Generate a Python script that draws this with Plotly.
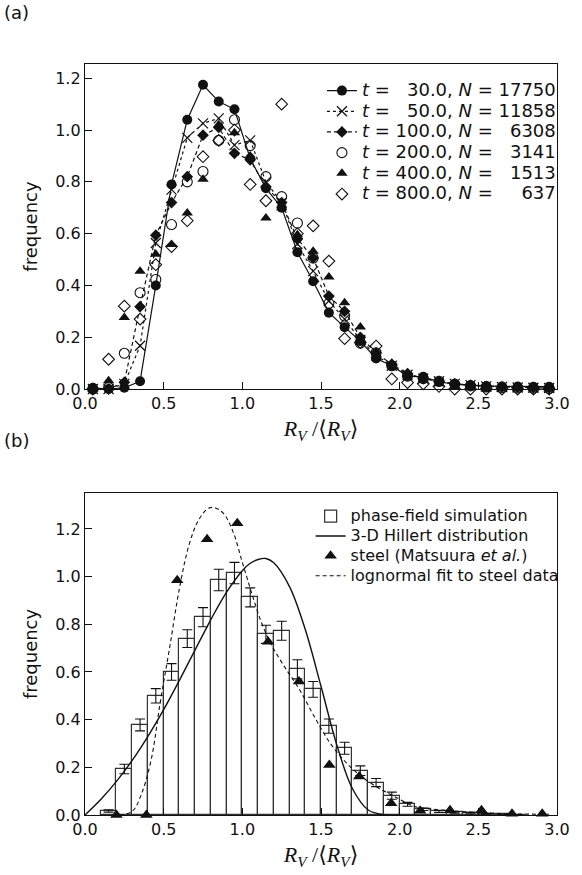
import plotly.graph_objects as go

# ---------------- panel (a) data ----------------
x_bins = [0.05, 0.15, 0.25, 0.35, 0.45, 0.55, 0.65, 0.75, 0.85, 0.95,
          1.05, 1.15, 1.25, 1.35, 1.45, 1.55, 1.65, 1.75, 1.85, 1.95,
          2.05, 2.15, 2.25, 2.35, 2.45, 2.55, 2.65, 2.75, 2.85, 2.95]

f_t30 = [0.005, 0.0, 0.005, 0.03, 0.40, 0.79, 1.04, 1.175, 1.11, 1.08,
         0.89, 0.775, 0.70, 0.528, 0.416, 0.295, 0.239, 0.185, 0.118, 0.09,
         0.05, 0.047, 0.028, 0.018, 0.015, 0.012, 0.01, 0.01, 0.009, 0.009]
f_t50 = [0.0, 0.0, 0.02, 0.167, 0.564, 0.77, 0.97, 1.026, 1.045, 0.942,
         0.96, 0.80, 0.72, 0.56, 0.455, 0.34, 0.27, 0.19, 0.13, 0.09,
         0.055, 0.04, 0.03, 0.02, 0.015, 0.01, 0.008, 0.006, 0.005, 0.004]
f_t100 = [0.0, 0.0, 0.026, 0.318, 0.594, 0.72, 0.82, 0.98, 1.01, 0.91,
          0.885, 0.78, 0.72, 0.58, 0.506, 0.359, 0.30, 0.20, 0.14, 0.095,
          0.06, 0.04, 0.03, 0.02, 0.015, 0.01, 0.008, 0.006, 0.005, 0.004]
f_t200 = [0.0, 0.006, 0.138, 0.372, 0.423, 0.635, 0.80, 0.84, 0.96, 1.04,
          0.94, 0.82, 0.743, 0.641, 0.506, 0.331, 0.282, 0.177, 0.14, 0.09,
          0.05, 0.04, 0.03, 0.019, 0.012, 0.008, 0.005, 0.004, 0.003, 0.002]
f_t400 = [0.0, 0.032, 0.276, 0.455, 0.52, 0.558, 0.68, 0.81, 1.02, 0.99,
          0.90, 0.66, 0.70, 0.596, 0.532, 0.433, 0.333, 0.24, 0.13, 0.10,
          0.058, 0.035, 0.02, 0.01, 0.005, 0.0, 0.0, 0.0, 0.0, 0.0]
f_t800 = [0.0, 0.115, 0.32, 0.27, 0.48, 0.55, 0.65, 0.897, 0.96, 1.0,
          0.79, 0.727, 1.10, 0.60, 0.63, 0.494, 0.195, 0.18, 0.166, 0.039,
          0.025, 0.02, 0.01, 0.0, 0.0, 0.0, 0.0, 0.0, 0.0, 0.0]

legend_a = ["<i>t</i> = \u200730.0, <i>N</i> = 17750",
            "<i>t</i> = \u200750.0, <i>N</i> = 11858",
            "<i>t</i> = 100.0, <i>N</i> = \u20076308",
            "<i>t</i> = 200.0, <i>N</i> = \u20073141",
            "<i>t</i> = 400.0, <i>N</i> = \u20071513",
            "<i>t</i> = 800.0, <i>N</i> = \u2007\u2007637"]

# ---------------- panel (b) data ----------------
bar_x = [0.15, 0.25, 0.35, 0.45, 0.55, 0.65, 0.75, 0.85, 0.95, 1.05,
         1.15, 1.25, 1.35, 1.45, 1.55, 1.65, 1.75, 1.85, 1.95, 2.05,
         2.15, 2.25, 2.35, 2.45, 2.55, 2.65, 2.75]
bar_f = [0.017, 0.193, 0.378, 0.50, 0.60, 0.74, 0.83, 0.986, 1.015, 0.913,
         0.758, 0.773, 0.611, 0.527, 0.373, 0.28, 0.186, 0.136, 0.081, 0.045,
         0.024, 0.015, 0.011, 0.008, 0.005, 0.003, 0.002]
bar_err = [0.005, 0.02, 0.025, 0.03, 0.035, 0.037, 0.04, 0.045, 0.045, 0.04,
           0.038, 0.04, 0.04, 0.033, 0.03, 0.025, 0.02, 0.017, 0.015, 0.008,
           0.005, 0.004, 0.003, 0.003, 0.002, 0.0, 0.0]

hill_x = [0.0, 0.1, 0.2, 0.3, 0.4, 0.5, 0.6, 0.7, 0.8, 0.9, 1.0, 1.05,
          1.1, 1.15, 1.2, 1.3, 1.4, 1.5, 1.6, 1.7, 1.8, 1.9, 2.0]
hill_f = [0.0, 0.065, 0.141, 0.229, 0.330, 0.442, 0.565, 0.693, 0.820, 0.935,
          1.025, 1.056, 1.072, 1.076, 1.058, 0.958, 0.778, 0.540, 0.295, 0.110,
          0.021, 0.001, 0.0]

steel_x = [0.20, 0.39, 0.586, 0.776, 0.968, 1.164, 1.36, 1.553, 1.743, 1.946,
           2.13, 2.32, 2.52, 2.714, 2.906]
steel_f = [0.0, 0.0, 0.985, 1.157, 1.224, 0.727, 0.56, 0.21, 0.161, 0.049,
           0.018, 0.02, 0.02, 0.005, 0.005]

logn_x = [0.22, 0.30, 0.36, 0.42, 0.48, 0.54, 0.60, 0.66, 0.72, 0.78, 0.82,
          0.88, 0.94, 1.00, 1.06, 1.12, 1.18, 1.26, 1.36, 1.46, 1.56, 1.66,
          1.76, 1.86, 1.96, 2.10, 2.25, 2.45, 2.70, 2.95]
logn_f = [0.0, 0.015, 0.09, 0.23, 0.48, 0.71, 0.95, 1.13, 1.235, 1.285, 1.29,
          1.265, 1.19, 1.06, 0.93, 0.81, 0.72, 0.63, 0.53, 0.41, 0.30, 0.22,
          0.16, 0.115, 0.08, 0.035, 0.022, 0.012, 0.005, 0.003]

legend_b = ["phase-field simulation", "3-D Hillert distribution",
            "steel (Matsuura <i>et al.</i>)", "lognormal fit to steel data"]

x_ticks = [0.0, 0.5, 1.0, 1.5, 2.0, 2.5, 3.0]
y_ticks = [0.0, 0.2, 0.4, 0.6, 0.8, 1.0, 1.2]

# ---------------- figure ----------------
SANS = "DejaVu Sans, Liberation Sans, Arial, sans-serif"
SERIF = "Liberation Serif, DejaVu Serif, Times New Roman, serif"
BLACK = "#111111"


def big(txt, px):
    return '<span style="font-size:%dpx">%s</span>' % (px, txt)


fig = go.Figure()

styles_a = [
    dict(mode="lines+markers", marker=dict(symbol="circle", size=10, color=BLACK),
         line=dict(color=BLACK, width=1.2, dash="solid")),
    dict(mode="lines+markers", marker=dict(symbol="x-thin-open", size=10, color=BLACK,
                                           line=dict(width=1.2, color=BLACK)),
         line=dict(color=BLACK, width=1.2, dash="dot")),
    dict(mode="lines+markers", marker=dict(symbol="diamond", size=9, color=BLACK),
         line=dict(color=BLACK, width=1.2, dash="4px,3px")),
    dict(mode="markers", marker=dict(symbol="circle-open", size=10, color=BLACK,
                                     line=dict(width=1.1, color=BLACK))),
    dict(mode="markers", marker=dict(symbol="triangle-up", size=10, color=BLACK)),
    dict(mode="markers", marker=dict(symbol="diamond-open", size=9, color=BLACK,
                                     line=dict(width=1.1, color=BLACK))),
]
series_a = [f_t30, f_t50, f_t100, f_t200, f_t400, f_t800]
for vals, name, st in zip(series_a, legend_a, styles_a):
    fig.add_trace(go.Scatter(x=x_bins, y=vals, name=big(name, 18), xaxis="x", yaxis="y",
                             legend="legend", cliponaxis=False, **st))

# panel (b)
fig.add_trace(go.Bar(x=bar_x, y=bar_f, name=big(legend_b[0], 16), xaxis="x2", yaxis="y2",
                     width=0.1, legend="legend2", legendrank=1,
                     marker=dict(color="white", line=dict(color="#333333", width=1.2)),
                     error_y=dict(type="data", array=bar_err, color=BLACK,
                                  thickness=1.1, width=5)))
fig.add_trace(go.Scatter(x=hill_x, y=hill_f, name=big(legend_b[1], 16), mode="lines",
                         line=dict(color=BLACK, width=1.4, shape="spline"),
                         xaxis="x2", yaxis="y2", legend="legend2", legendrank=2))
fig.add_trace(go.Scatter(x=logn_x, y=logn_f, name=big(legend_b[3], 16), mode="lines",
                         line=dict(color=BLACK, width=1.1, dash="4px,3px", shape="spline"),
                         xaxis="x2", yaxis="y2", legend="legend2", legendrank=4))
fig.add_trace(go.Scatter(x=steel_x, y=steel_f, name=big(legend_b[2], 16), mode="markers",
                         marker=dict(symbol="triangle-up", size=11, color=BLACK),
                         cliponaxis=False,
                         xaxis="x2", yaxis="y2", legend="legend2", legendrank=3))

axis_common = dict(showline=True, linecolor=BLACK, linewidth=1.4, mirror=True,
                   ticks="inside", ticklen=7, tickwidth=1.2, tickcolor=BLACK,
                   showgrid=False, zeroline=False,
                   tickfont=dict(family=SANS, size=16, color=BLACK))
xtitle = dict(text="<i>R</i><sub><i>V</i></sub> /\u27e8<i>R</i><sub><i>V</i></sub>\u27e9",
              font=dict(family=SERIF, size=22, color=BLACK), standoff=8)
ytitle = dict(text="frequency", font=dict(family=SANS, size=18, color=BLACK), standoff=12)

fig.update_layout(
    width=582, height=875,
    margin=dict(l=85, r=13, t=64, b=60),
    paper_bgcolor="white", plot_bgcolor="white",
    bargap=0,
    xaxis=dict(domain=[0, 1], anchor="y", range=[0, 3], tickvals=x_ticks,
               tickformat=".1f", title=xtitle, **axis_common),
    yaxis=dict(domain=[0.5672, 1.0], anchor="x", range=[0, 1.255], tickvals=y_ticks,
               tickformat=".1f", title=ytitle, **axis_common),
    xaxis2=dict(domain=[0, 1], anchor="y2", range=[0, 3], tickvals=x_ticks,
                tickformat=".1f", title=xtitle, **axis_common),
    yaxis2=dict(domain=[0, 0.4288], anchor="x2", range=[0, 1.351], tickvals=y_ticks,
                tickformat=".1f", title=ytitle, **axis_common),
    legend=dict(x=0.502, y=0.985, xanchor="left", yanchor="top",
                bgcolor="rgba(0,0,0,0)", borderwidth=0,
                font=dict(family=SANS, size=13.6, color=BLACK), tracegroupgap=0),
    legend2=dict(x=0.478, y=0.418, xanchor="left", yanchor="top",
                 bgcolor="rgba(0,0,0,0)", borderwidth=0, traceorder="normal",
                 font=dict(family=SANS, size=13, color=BLACK)),
)
ann = []
for txt, ypx in [("(a)", 12), ("(b)", 440)]:
    ann.append(dict(text=txt, xref="paper", yref="paper",
                    x=-85 / 484, y=(815 - ypx) / 751, xanchor="left", yanchor="middle",
                    showarrow=False, font=dict(family=SANS, size=18, color=BLACK)))
fig.update_layout(annotations=ann)

fig.write_html("out.html")
